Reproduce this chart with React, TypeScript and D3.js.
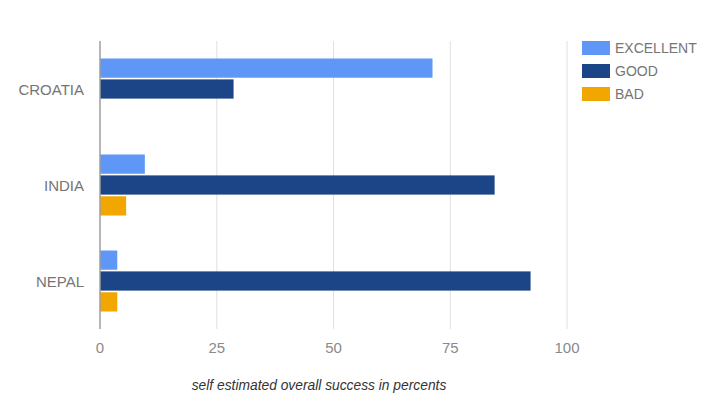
import React, { useRef, useEffect } from 'react';
import * as d3 from 'd3';

const countries = ['CROATIA', 'INDIA', 'NEPAL'];
const seriesNames = ['EXCELLENT', 'GOOD', 'BAD'];
const excellent = [71.2, 9.6, 3.7];
const good = [28.6, 84.5, 92.2];
const bad = [0, 5.6, 3.7];
const ticks = [0, 25, 50, 75, 100];
const colors = ['#5e97f6', '#1c4587', '#f2a600'];

function App() {
  const ref = useRef(null);

  useEffect(() => {
    const svg = d3.select(ref.current);
    svg.selectAll('*').remove();
    const font = "'Liberation Sans', Arial, sans-serif";

    const x = d3.scaleLinear().domain([0, 100]).range([100, 567]);
    const y = d3.scaleBand().domain(countries).range([41, 329]);
    const inner = d3.scaleBand().domain(seriesNames).range([-30.5, 30.5]).paddingInner(0.08);

    // gridlines
    svg.append('g').selectAll('line').data(ticks.slice(1)).join('line')
      .attr('x1', d => x(d)).attr('x2', d => x(d))
      .attr('y1', 41).attr('y2', 329)
      .attr('stroke', '#e0e0e0').attr('stroke-width', 1);

    const values = [excellent, good, bad];
    const rows = [];
    seriesNames.forEach((s, si) => {
      countries.forEach((c, ci) => {
        rows.push({ s, c, v: values[si][ci], color: colors[si] });
      });
    });

    svg.append('g').selectAll('rect').data(rows.filter(r => r.v > 0)).join('rect')
      .attr('x', x(0))
      .attr('y', d => y(d.c) + y.bandwidth() / 2 + inner(d.s))
      .attr('width', d => x(d.v) - x(0))
      .attr('height', inner.bandwidth())
      .attr('fill', d => d.color);

    // baseline
    svg.append('line')
      .attr('x1', x(0)).attr('x2', x(0)).attr('y1', 41).attr('y2', 329)
      .attr('stroke', '#9e9e9e').attr('stroke-width', 1.5);

    // x tick labels
    svg.append('g').selectAll('text').data(ticks).join('text')
      .attr('x', d => x(d)).attr('y', 353)
      .attr('text-anchor', 'middle')
      .attr('font-family', font).attr('font-size', 15)
      .attr('fill', '#8a8a8a').text(d => d);

    // category labels
    svg.append('g').selectAll('text').data(countries).join('text')
      .attr('x', 84).attr('y', d => y(d) + y.bandwidth() / 2 + 5.5)
      .attr('text-anchor', 'end')
      .attr('font-family', font).attr('font-size', 15)
      .attr('fill', '#757575').text(d => d);

    // legend
    const lg = svg.append('g').selectAll('g').data(seriesNames).join('g')
      .attr('transform', (d, i) => `translate(582,${41 + i * 23})`);
    lg.append('rect').attr('width', 28).attr('height', 14).attr('fill', (d, i) => colors[i]);
    lg.append('text').attr('x', 33).attr('y', 12)
      .attr('font-family', font).attr('font-size', 14)
      .attr('fill', '#757575').text(d => d);

    // axis title
    svg.append('text')
      .attr('x', 319).attr('y', 390)
      .attr('text-anchor', 'middle')
      .attr('font-family', font).attr('font-size', 13.8)
      .attr('font-style', 'italic')
      .attr('fill', '#333')
      .text('self estimated overall success in percents');
  }, []);

  return (
    <svg width="708" height="401" ref={ref} style={{ position: 'absolute', left: 0, top: 0, background: '#fff' }}></svg>
  );
}

export default App;
